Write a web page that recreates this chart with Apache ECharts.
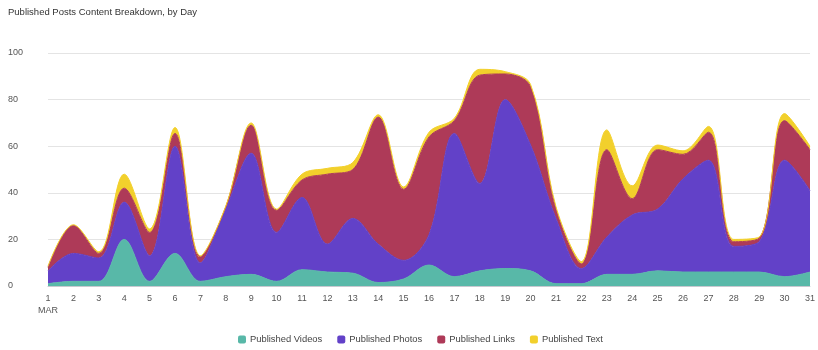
<!DOCTYPE html>
<html>
<head>
<meta charset="utf-8">
<script src="https://cdn.jsdelivr.net/npm/echarts@6/dist/echarts.min.js"></script>
<style>
html,body{margin:0;padding:0;background:#fff;}
#chart{width:818px;height:350px;}
</style>
</head>
<body>
<div id="chart"></div>
<script>
const days = ['1\nMAR','2','3','4','5','6','7','8','9','10','11','12','13','14','15','16','17','18','19','20','21','22','23','24','25','26','27','28','29','30','31'];
const videos = [1, 2, 2, 20, 2, 14, 2, 4, 5, 2, 7, 6, 5.5, 1.5, 3, 9, 4, 6.5, 7.5, 6.5, 1, 1, 5, 5, 6.5, 6, 6, 6, 6, 4, 6];
const photos = [5.5, 12, 10, 16, 11, 46, 8, 29, 52, 21, 31, 12, 23.5, 16.5, 8, 13, 61.5, 37.5, 72.5, 54, 28, 6.5, 16, 25.5, 26.5, 40, 48, 11, 13, 50, 35];
const links = [1.5, 12, 2, 6, 10, 5.5, 2.5, 1, 12, 9.5, 7.5, 30, 21, 54.5, 30.5, 42, 5.5, 46.5, 11, 25, 4, 2, 37.5, 7, 25.5, 10.5, 12, 2, 1.5, 17, 17.5];
const texts = [0.5, 0.3, 0.7, 6, 1.5, 2.5, 0.5, 0.3, 1, 0.5, 2.5, 2.5, 3, 1, 1, 2, 1, 2.5, 1, 1, 1, 1, 8.5, 5.5, 2, 1.5, 2.5, 1, 0.5, 3, 1.5];
const yTicks = [0, 20, 40, 60, 80, 100];

const names = ['Published Videos','Published Photos','Published Links','Published Text'];
const colors = ['#58b8a8','#6241c8','#ae3a58','#f2d02c'];
const values = [videos, photos, links, texts];
const FONT = 'Liberation Sans, Arial, sans-serif';

const chart = echarts.init(document.getElementById('chart'), null, {renderer:'canvas'});
chart.setOption({
  animation: false,
  textStyle: {fontFamily: FONT},
  title: {
    text: 'Published Posts Content Breakdown, by Day',
    left: 3, top: 2,
    textStyle: {fontSize: 9.5, fontWeight: 'normal', color: '#333', fontFamily: FONT}
  },
  legend: {
    bottom: 1, left: 233,
    itemWidth: 8, itemHeight: 8, itemGap: 15,
    icon: 'roundRect',
    textStyle: {fontSize: 9.4, color: '#444', fontFamily: FONT, padding: [0,0,0,-1]},
    data: names
  },
  grid: {left: 48, right: 8, top: 53, bottom: 64, containLabel: false},
  xAxis: {
    type: 'category',
    boundaryGap: false,
    data: days,
    axisTick: {show: false},
    axisLine: {lineStyle: {color: '#c8c8d0', width: 1}},
    axisLabel: {color: '#555', fontSize: 9, margin: 7, lineHeight: 12, interval: 0, fontFamily: FONT}
  },
  yAxis: {
    type: 'value',
    min: yTicks[0], max: yTicks[yTicks.length-1], interval: 20,
    axisLine: {show: false},
    axisTick: {show: false},
    splitLine: {lineStyle: {color: '#e4e4e4', width: 1}},
    axisLabel: {color: '#555', fontSize: 9, align: 'left', margin: 40, fontFamily: FONT}
  },
  series: names.map((n, i) => ({
    name: n,
    type: 'line',
    stack: 'total',
    smooth: 0.35,
    showSymbol: false,
    symbol: 'none',
    data: values[i],
    itemStyle: {color: colors[i]},
    lineStyle: {width: 1, color: colors[i]},
    areaStyle: {color: colors[i], opacity: 1}
  }))
});
</script>
</body>
</html>
